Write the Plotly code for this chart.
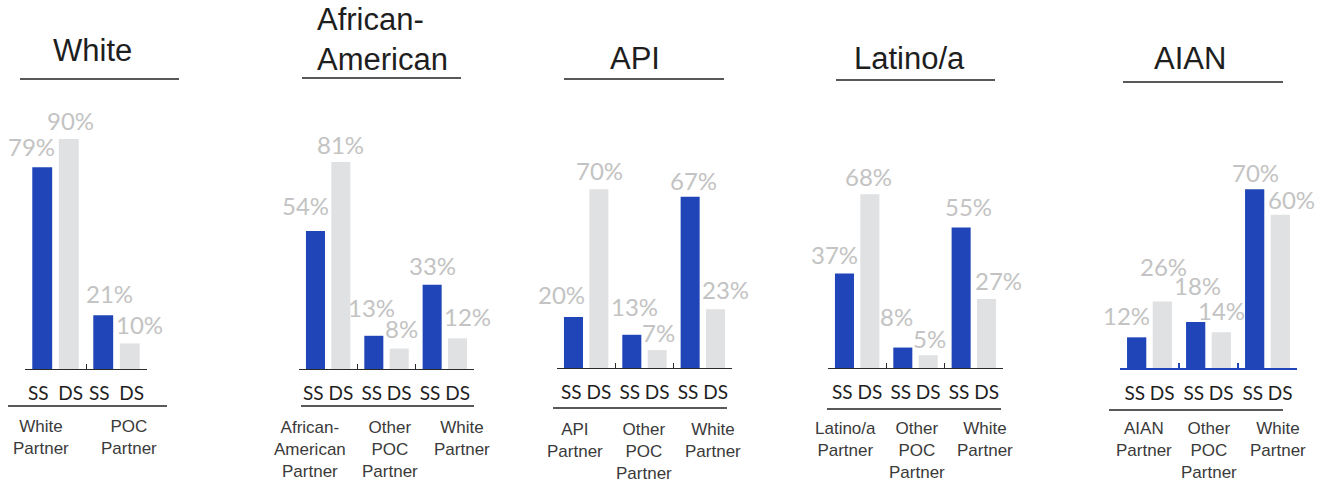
import plotly.graph_objects as go

W, H = 1322, 483

# ---------------- data ----------------
TITLES = ["White", "African-<br>American", "API", "Latino/a", "AIAN"]
GROUPS = [
    ["White<br>Partner", "POC<br>Partner"],
    ["African-<br>American<br>Partner", "Other<br>POC<br>Partner", "White<br>Partner"],
    ["API<br>Partner", "Other<br>POC<br>Partner", "White<br>Partner"],
    ["Latino/a<br>Partner", "Other<br>POC<br>Partner", "White<br>Partner"],
    ["AIAN<br>Partner", "Other<br>POC<br>Partner", "White<br>Partner"],
]
SERIES = ["SS", "DS"]
SS_VALUES = [[79, 21], [54, 13, 33], [20, 13, 67], [37, 8, 55], [12, 18, 70]]
DS_VALUES = [[90, 10], [81, 8, 12], [70, 7, 23], [68, 5, 27], [26, 14, 60]]

# ---------------- style ----------------
BLUE = "#1f45b9"
GREY_BAR = "#e0e1e3"
LABEL_GREY = "#c3c3c3"
INK = "#1e1e1e"
BARGAP, BARGROUPGAP = 0.13, 0.25
PX_PER_UNIT = 2.555

PANELS = [
    dict(ax=(25, 147), base=369, title=(92, 50, "center"), tline=(20, 179, 79),
         uline=(8, 167, 406), color="#2a2a2a", lw=1.4, sep="\u00a0\u00a0", gnudge=[-15, 12], ltop=415),
    dict(ax=(299, 474), base=369, title=(315, 40, "left"), tline=(302, 461, 78),
         uline=(301, 474, 406), color="#2a2a2a", lw=1.4, sep=" ", gnudge=[-18, 3, 17], ltop=416),
    dict(ax=(557, 732), base=368, title=(635, 58, "center"), tline=(564, 724, 79),
         uline=(553, 727, 408), color="#2a2a2a", lw=1.4, sep=" ", gnudge=[-11, -1, 10], ltop=418),
    dict(ax=(828, 1003), base=368, title=(910, 58, "center"), tline=(836, 995, 80),
         uline=(827, 1001, 409), color="#2a2a2a", lw=1.4, sep=" ", gnudge=[-12, 1, 11], ltop=417),
    dict(ax=(1120, 1297), base=368, title=(1190, 59, "center"), tline=(1123, 1283, 82),
         uline=(1109, 1283, 410), color=BLUE, lw=2.2, sep=" ", gnudge=[-6, 0, 10], ltop=417),
]
# per-label nudges (dx px, gap px above bar) for the percentage labels
NUDGE_SS = [
    [(-11, 10), (6, 11)],
    [(-10, 15), (-2, 18), (0, 9)],
    [(-12, 12), (3, 18), (3, 6)],
    [(-10, 8), (-6, 21), (7, 10)],
    [(-10, 11), (2, 26), (1, 6)],
]
NUDGE_DS = [
    [(2, 8), (10, 8)],
    [(0, 7), (2, 10), (10, 11)],
    [(1, 8), (1, 7), (10, 9)],
    [(-1, 7), (1, 6), (12, 8)],
    [(1, 25), (0, 11), (11, 5)],
]


def fx(x):
    return x / W


def fy(y):
    return 1 - y / H


fig = go.Figure()
annotations = []
shapes = []
slot = (1 - BARGAP) / 2

for p, panel in enumerate(PANELS):
    n = "" if p == 0 else str(p + 1)
    xa, ya = "x" + n, "y" + n
    colors = [BLUE, GREY_BAR]
    series_vals = [SS_VALUES[p], DS_VALUES[p]]
    ncat = len(GROUPS[p])
    for k, name in enumerate(SERIES):
        fig.add_trace(go.Bar(x=GROUPS[p], y=series_vals[k], name=name,
                             marker=dict(color=colors[k], line=dict(width=0)),
                             xaxis=xa, yaxis=ya, showlegend=False))
    base = panel["base"]
    top = base - 100 * PX_PER_UNIT
    fig.update_layout({
        "xaxis" + n: dict(
            domain=[fx(panel["ax"][0]), fx(panel["ax"][1])], anchor=ya,
            type="category", categoryorder="array", categoryarray=GROUPS[p],
            range=[-0.5, ncat - 0.5], autorange=False,
            tickmode="array", tickvals=GROUPS[p],
            ticktext=[panel["sep"].join(SERIES)] * ncat, tickangle=0,
            tickson="boundaries", ticks="inside", ticklen=5,
            tickwidth=panel["lw"], tickcolor=panel["color"],
            showline=True, linecolor=panel["color"], linewidth=panel["lw"],
            showgrid=False, zeroline=False, ticklabelstandoff=7,
            tickfont=dict(family="Lato", size=19, color=INK), fixedrange=True,
        ),
        "yaxis" + n: dict(domain=[fy(base), fy(top)], anchor=xa, range=[0, 100],
                          autorange=False, visible=False, fixedrange=True),
    })
    # percentage labels
    nudges = [NUDGE_SS[p], NUDGE_DS[p]]
    for k in range(2):
        for i, v in enumerate(series_vals[k]):
            dx, gap = nudges[k][i]
            annotations.append(dict(
                x=i + (k - 0.5) * slot, y=v, xref=xa, yref=ya,
                text=f"{v}%", showarrow=False, xanchor="center", yanchor="bottom",
                xshift=dx, yshift=gap - 6,
                font=dict(family="Lato", size=24, color=LABEL_GREY)))
    # group labels
    for i, g in enumerate(GROUPS[p]):
        annotations.append(dict(
            x=i, y=fy(panel["ltop"]), xref=xa, yref="paper", text=g,
            showarrow=False, xanchor="center", yanchor="top", align="center",
            xshift=panel["gnudge"][i],
            font=dict(family="Liberation Sans", size=17, color="#3a3a3a")))
    # title
    tx, ty, anchor = panel["title"]
    annotations.append(dict(
        x=fx(tx), y=fy(ty), xref="paper", yref="paper", text=TITLES[p],
        showarrow=False, xanchor=anchor, yanchor="middle", align=anchor,
        font=dict(family="Liberation Sans", size=31, color=INK)))
    # underlines
    for (x0, x1, y) in (panel["tline"], panel["uline"]):
        shapes.append(dict(type="line", xref="paper", yref="paper",
                           x0=fx(x0), x1=fx(x1), y0=fy(y), y1=fy(y),
                           line=dict(color="#222222", width=1.6)))

fig.update_layout(
    width=W, height=H, margin=dict(l=0, r=0, t=0, b=0),
    paper_bgcolor="white", plot_bgcolor="white",
    barmode="group", bargap=BARGAP, bargroupgap=BARGROUPGAP,
    showlegend=False, annotations=annotations, shapes=shapes,
)

fig.write_html("out.html", config={"displayModeBar": False},
               post_script="document.body.style.margin='0';")
